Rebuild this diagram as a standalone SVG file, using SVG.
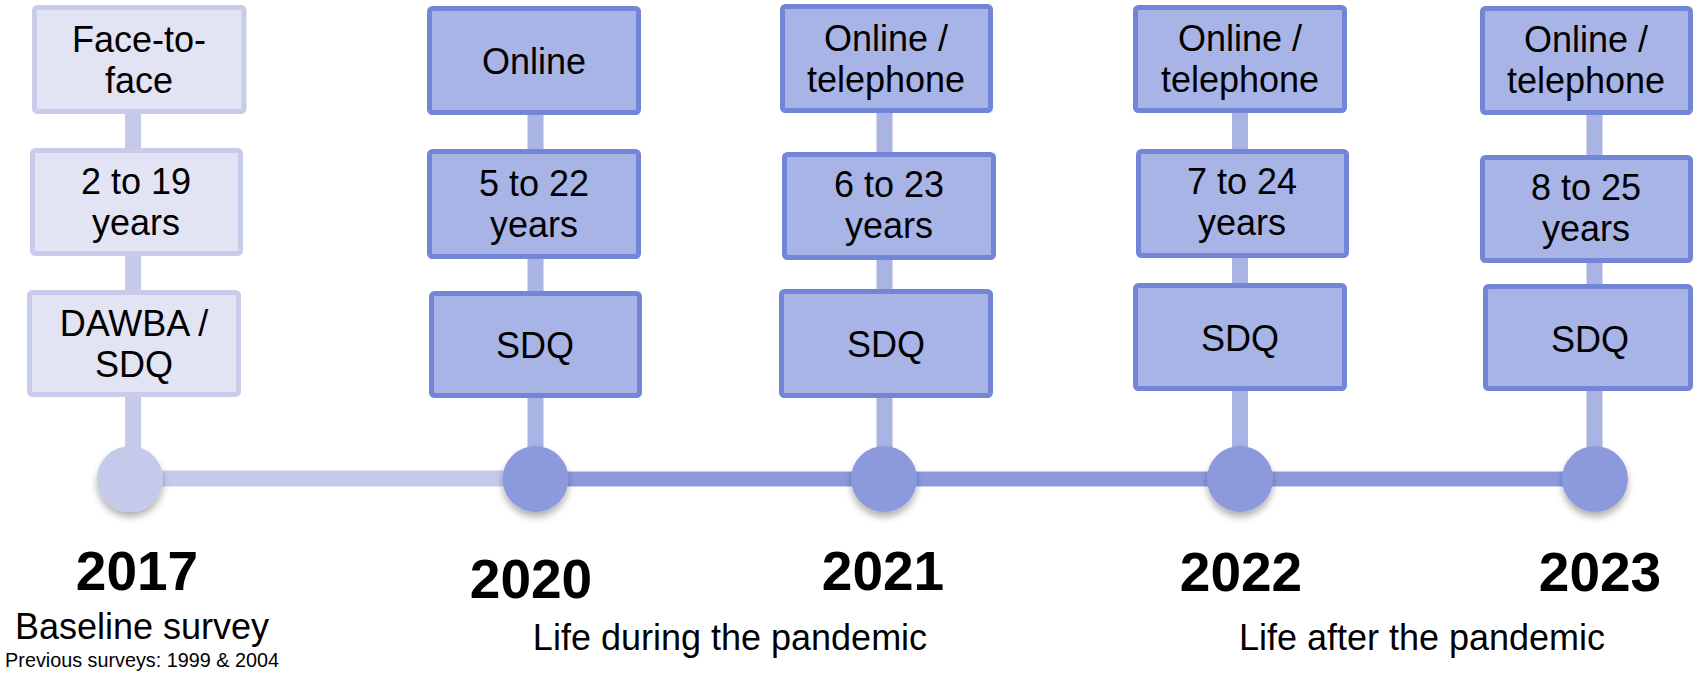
<svg xmlns="http://www.w3.org/2000/svg" width="1695" height="674" viewBox="0 0 1695 674">
<style>
.bl{fill:#e2e4f4;stroke:#c8cceb;stroke-width:5}
.bd{fill:#a9b4e6;stroke:#7385d6;stroke-width:5}
.t{font-family:"Liberation Sans",Arial,sans-serif;font-size:36px;fill:#000;text-anchor:middle}
.y{font-family:"Liberation Sans",Arial,sans-serif;font-size:55px;font-weight:bold;fill:#000;text-anchor:middle}
.s{font-family:"Liberation Sans",Arial,sans-serif;font-size:19.8px;fill:#000;text-anchor:middle}
.stl{stroke:#c6caea;stroke-width:16}
.std{stroke:#a9b3e4;stroke-width:16}
.cl{fill:#c6caea}
.cd{fill:#8c99dc}
</style>
<defs>
<filter id="sh" x="-30%" y="-30%" width="160%" height="170%">
<feDropShadow dx="0" dy="5" stdDeviation="3.5" flood-color="#000" flood-opacity="0.3"/>
</filter>
</defs>
<g id="connectors">
<line class="stl" x1="133" y1="110" x2="133" y2="470"/>
<line class="std" x1="535.5" y1="110" x2="535.5" y2="470"/>
<line class="std" x1="884.5" y1="110" x2="884.5" y2="470"/>
<line class="std" x1="1240" y1="110" x2="1240" y2="470"/>
<line class="std" x1="1594.5" y1="110" x2="1594.5" y2="470"/>
<line class="stl" x1="130" y1="478.5" x2="536" y2="478.5" stroke-width="15"/>
<line x1="535" y1="479" x2="1595" y2="479" stroke="#8c99dc" stroke-width="15"/>
</g>
<g id="col2017">
<rect class="bl" x="34.5" y="7.5" width="209.5" height="104" rx="3"/>
<text class="t" x="139" y="52">Face-to-</text>
<text class="t" x="139" y="93">face</text>
<rect class="bl" x="32.5" y="150.5" width="208" height="103" rx="3"/>
<text class="t" x="136" y="194">2 to 19</text>
<text class="t" x="136" y="235">years</text>
<rect class="bl" x="29.5" y="292.5" width="209" height="102" rx="3"/>
<text class="t" x="134" y="336">DAWBA /</text>
<text class="t" x="134" y="377">SDQ</text>
<circle class="cl" cx="130" cy="479" r="33" filter="url(#sh)"/>
<text class="y" x="137" y="590">2017</text>
<text class="t" x="142" y="639">Baseline survey</text>
<text class="s" x="142" y="667">Previous surveys: 1999 &amp; 2004</text>
</g>
<g id="col2020">
<rect class="bd" x="429.5" y="8.5" width="209" height="104" rx="3"/>
<text class="t" x="534" y="74">Online</text>
<rect class="bd" x="429.5" y="151.5" width="209" height="105" rx="3"/>
<text class="t" x="534" y="196">5 to 22</text>
<text class="t" x="534" y="237">years</text>
<rect class="bd" x="431.5" y="293.5" width="208" height="102" rx="3"/>
<text class="t" x="535" y="358">SDQ</text>
<circle class="cd" cx="535.5" cy="479" r="33" filter="url(#sh)"/>
<text class="y" x="531" y="598">2020</text>
</g>
<g id="col2021">
<rect class="bd" x="782.5" y="6.5" width="208" height="104" rx="3"/>
<text class="t" x="886" y="51">Online /</text>
<text class="t" x="886" y="92">telephone</text>
<rect class="bd" x="784.5" y="154.5" width="209" height="103" rx="3"/>
<text class="t" x="889" y="197">6 to 23</text>
<text class="t" x="889" y="238">years</text>
<rect class="bd" x="781.5" y="291.5" width="209" height="104" rx="3"/>
<text class="t" x="886" y="357">SDQ</text>
<circle class="cd" cx="884" cy="479" r="33" filter="url(#sh)"/>
<text class="y" x="883" y="590">2021</text>
</g>
<g id="col2022">
<rect class="bd" x="1135.5" y="7.5" width="209" height="103" rx="3"/>
<text class="t" x="1240" y="51">Online /</text>
<text class="t" x="1240" y="92">telephone</text>
<rect class="bd" x="1138.5" y="151.5" width="208" height="104" rx="3"/>
<text class="t" x="1242" y="194">7 to 24</text>
<text class="t" x="1242" y="235">years</text>
<rect class="bd" x="1135.5" y="285.5" width="209" height="103" rx="3"/>
<text class="t" x="1240" y="351">SDQ</text>
<circle class="cd" cx="1240" cy="479" r="33" filter="url(#sh)"/>
<text class="y" x="1241" y="591">2022</text>
<text class="t" x="1422" y="650">Life after the pandemic</text>
</g>
<g id="col2023">
<rect class="bd" x="1482.5" y="8.5" width="208" height="104" rx="3"/>
<text class="t" x="1586" y="52">Online /</text>
<text class="t" x="1586" y="93">telephone</text>
<rect class="bd" x="1482.5" y="157.5" width="208" height="103" rx="3"/>
<text class="t" x="1586" y="200">8 to 25</text>
<text class="t" x="1586" y="241">years</text>
<rect class="bd" x="1485.5" y="286.5" width="205" height="102" rx="3"/>
<text class="t" x="1590" y="352">SDQ</text>
<circle class="cd" cx="1595" cy="479" r="33" filter="url(#sh)"/>
<text class="y" x="1600" y="591">2023</text>
</g>
<g id="labels">
<text class="t" x="730" y="650">Life during the pandemic</text>
</g>
</svg>
